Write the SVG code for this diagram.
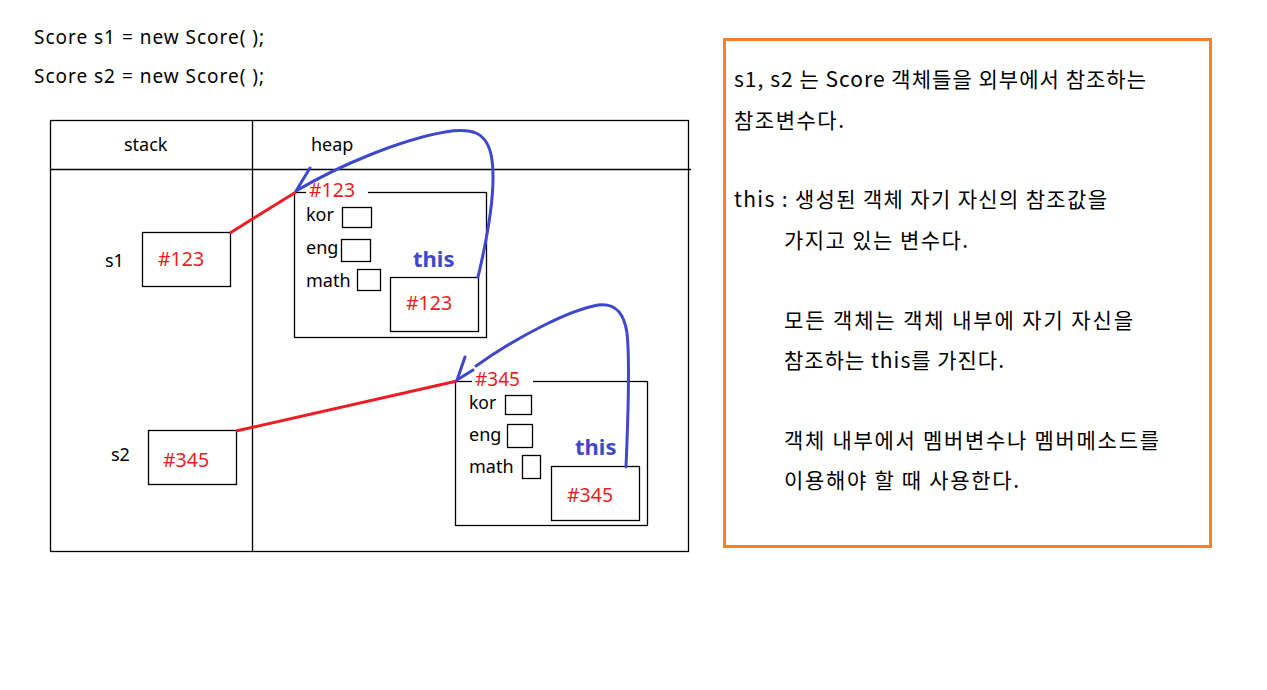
<svg xmlns="http://www.w3.org/2000/svg" width="1267" height="690" viewBox="0 0 1267 690">
<style>
text{font-family:"Noto Sans","Noto Sans CJK KR",sans-serif;font-size:18px;fill:#000}
.code{font-size:19px}
.kr{font-family:"Noto Sans CJK KR","Noto Sans",sans-serif;font-size:21px}
.red{fill:#ED1C24;font-size:19.5px}
.this{fill:#3F48CC;font-weight:bold;font-size:22px}
.box{fill:#fff;stroke:#000;stroke-width:1.3}
.ln{stroke:#000;stroke-width:1.3;fill:none}
.ref{stroke:#ED1C24;stroke-width:3;fill:none}
.blue{stroke:#3F48CC;stroke-width:3;fill:none;stroke-linecap:round;stroke-linejoin:round}
</style>
<rect width="1267" height="690" fill="#fff"/>
<g id="code">
<text x="34" y="44" class="code" textLength="230">Score s1 = new Score( );</text>
<text x="34" y="83" class="code" textLength="230">Score s2 = new Score( );</text>
</g>
<g id="table">
<rect x="50.5" y="120.5" width="638" height="431" class="box"/>
<line x1="50" y1="169.5" x2="691" y2="169.5" class="ln"/>
<line x1="252.5" y1="120" x2="252.5" y2="552" class="ln"/>
<text x="124" y="151">stack</text>
<text x="311" y="151">heap</text>
</g>
<g id="s1">
<text x="105" y="267">s1</text>
<rect x="142.5" y="232.5" width="88" height="54" class="box"/>
<text x="158" y="266" class="red">#123</text>
</g>
<g id="s2">
<text x="111" y="461">s2</text>
<rect x="148.5" y="430.5" width="88" height="54" class="box"/>
<text x="163" y="467" class="red">#345</text>
</g>
<g id="obj1">
<rect x="294.5" y="192.5" width="192" height="145" class="box"/>
<rect x="306" y="183" width="62" height="17" fill="#fff"/>
<text x="309" y="197" class="red">#123</text>
<text x="306" y="221">kor</text>
<rect x="342.5" y="207.5" width="29" height="20" class="box"/>
<text x="306" y="254">eng</text>
<rect x="341.5" y="239.5" width="29" height="22" class="box"/>
<text x="306" y="287">math</text>
<rect x="357.5" y="269.5" width="23" height="21" class="box"/>
<text x="413" y="267" class="this">this</text>
<rect x="390.5" y="277.5" width="88" height="54" class="box"/>
<text x="406" y="310" class="red">#123</text>
</g>
<g id="obj2">
<rect x="455.5" y="381.5" width="192" height="144" class="box"/>
<rect x="505.5" y="395.5" width="26" height="19" class="box"/>
<rect x="472" y="372" width="61" height="17" fill="#fff"/>
<text x="475" y="386" class="red" style="font-size:19px">#345</text>
<text x="469" y="409" style="font-size:17.5px">kor</text>
<text x="469" y="441">eng</text>
<rect x="507.5" y="424.5" width="25" height="23" class="box"/>
<text x="469" y="473">math</text>
<rect x="522.5" y="455.5" width="18" height="23" class="box"/>
<text x="575" y="455" class="this">this</text>
<rect x="551.5" y="466.5" width="88" height="54" class="box"/>
<text x="567" y="502" class="red">#345</text>
</g>
<g id="connectors">
<line x1="230" y1="233" x2="296" y2="192" class="ref"/>
<line x1="236" y1="431" x2="457" y2="381" class="ref"/>
<path d="M478,277 C488,235 496,190 492,160 C488,130 470,128 445,132 C400,140 340,165 296,191 L310,168" class="blue"/>
<path d="M626,467 C628,420 630,360 627,333 C624,312 615,303 598,305 C570,310 520,335 476,366 M473,370 L457,380 L465,357" class="blue"/>
</g>
<g id="note">
<rect x="724.5" y="39.5" width="486" height="507" fill="none" stroke="#FF7F27" stroke-width="3"/>
<text x="734" y="87" class="kr" textLength="412">s1, s2 는 Score 객체들을 외부에서 참조하는</text>
<text x="734" y="128" class="kr" textLength="110">참조변수다.</text>
<text x="734" y="207" class="kr" textLength="373">this : 생성된 객체 자기 자신의 참조값을</text>
<text x="784" y="248" class="kr" textLength="184">가지고 있는 변수다.</text>
<text x="784" y="328" class="kr" textLength="349">모든 객체는 객체 내부에 자기 자신을</text>
<text x="784" y="368" class="kr" textLength="220">참조하는 this를 가진다.</text>
<text x="784" y="448" class="kr" textLength="375">객체 내부에서 멤버변수나 멤버메소드를</text>
<text x="784" y="488" class="kr" textLength="235">이용해야 할 때 사용한다.</text>
</g>
</svg>
